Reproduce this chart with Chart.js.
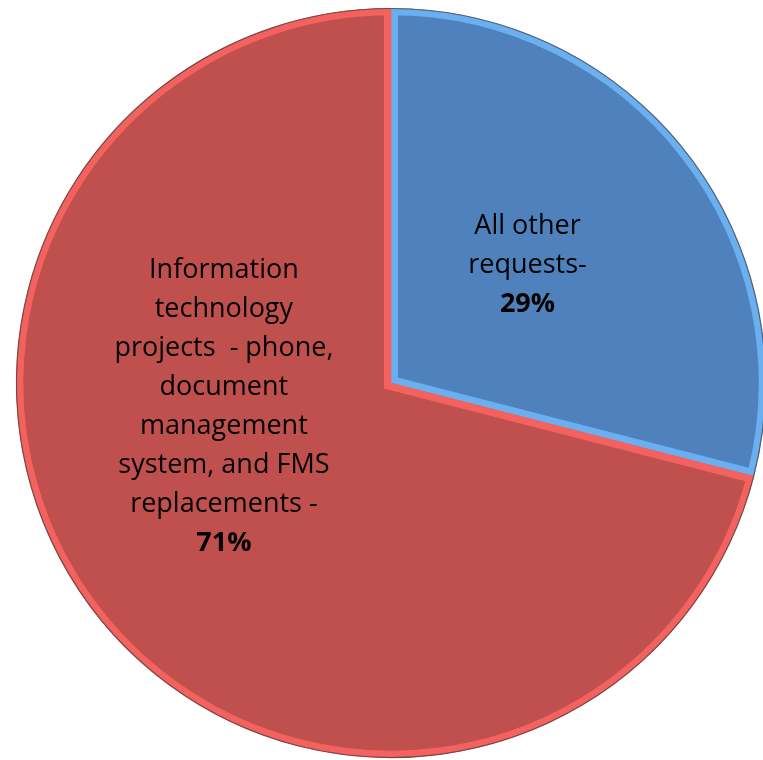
<!DOCTYPE html>
<html>
<head>
<meta charset="utf-8">
<script src="https://cdn.jsdelivr.net/npm/chart.js@4.4.1/dist/chart.umd.min.js"></script>
<style>
  html, body { margin: 0; padding: 0; background: #ffffff; overflow: hidden; }
  #wrap { position: absolute; left: 0; top: 0; width: 782px; height: 766px; }
</style>
</head>
<body>
<div id="wrap"><canvas id="pie"></canvas></div>
<script>
// Budget request shares (percent)
const categories = [
  ['All other', 'requests-'],
  ['Information', 'technology', 'projects  - phone,', 'document', 'management', 'system, and FMS', 'replacements -']
];
const shares = [29, 71];
const shareLabels = ['29%', '71%'];

const fillColors = ['#4F81BD', '#C0504D'];
const edgeColors = ['#6AAFF0', '#F4625F'];

// Text placed inside each slice: angle offset from the slice middle (radians) and radial fraction
const labelPlacement = [
  { angleShift: -0.05, radius: 0.48 },
  { angleShift: 0.52, radius: 0.45 }
];

const FONT_FAMILY = '"Open Sans", "Noto Sans", sans-serif';

const sliceText = {
  id: 'sliceText',
  afterDatasetsDraw(chart) {
    const ctx = chart.ctx;
    const meta = chart.getDatasetMeta(0);
    meta.data.forEach((arc, i) => {
      const p = arc.getProps(['x', 'y', 'startAngle', 'endAngle', 'outerRadius']);
      // thin dark rim around the pie
      ctx.save();
      ctx.beginPath();
      ctx.arc(p.x, p.y, p.outerRadius - 0.5, p.startAngle, p.endAngle);
      ctx.strokeStyle = 'rgba(70,60,60,0.7)';
      ctx.lineWidth = 1.2;
      ctx.stroke();
      ctx.restore();

      const mid = (p.startAngle + p.endAngle) / 2 + labelPlacement[i].angleShift;
      const r = p.outerRadius * labelPlacement[i].radius;
      const cx = p.x + Math.cos(mid) * r;
      const cy = p.y + Math.sin(mid) * r;
      const lines = categories[i].slice();
      const lh = 39;
      const total = lines.length + 1;
      let y = cy - (total - 1) * lh / 2;
      ctx.save();
      ctx.fillStyle = '#000000';
      ctx.textAlign = 'center';
      ctx.textBaseline = 'middle';
      ctx.font = '27px ' + FONT_FAMILY;
      lines.forEach(t => { ctx.fillText(t, cx, y); y += lh; });
      ctx.font = 'bold 27px ' + FONT_FAMILY;
      ctx.fillText(shareLabels[i], cx, y);
      ctx.restore();
    });
  }
};

new Chart(document.getElementById('pie'), {
  type: 'pie',
  data: {
    labels: categories.map(c => c.join(' ')),
    datasets: [{
      data: shares,
      backgroundColor: fillColors,
      borderColor: edgeColors,
      borderWidth: 7,
      borderAlign: 'inner',
      borderJoinStyle: 'miter'
    }]
  },
  options: {
    responsive: true,
    maintainAspectRatio: false,
    animation: false,
    layout: { padding: 8 },
    plugins: {
      legend: { display: false },
      tooltip: { enabled: false }
    }
  },
  plugins: [sliceText]
});
</script>
</body>
</html>
